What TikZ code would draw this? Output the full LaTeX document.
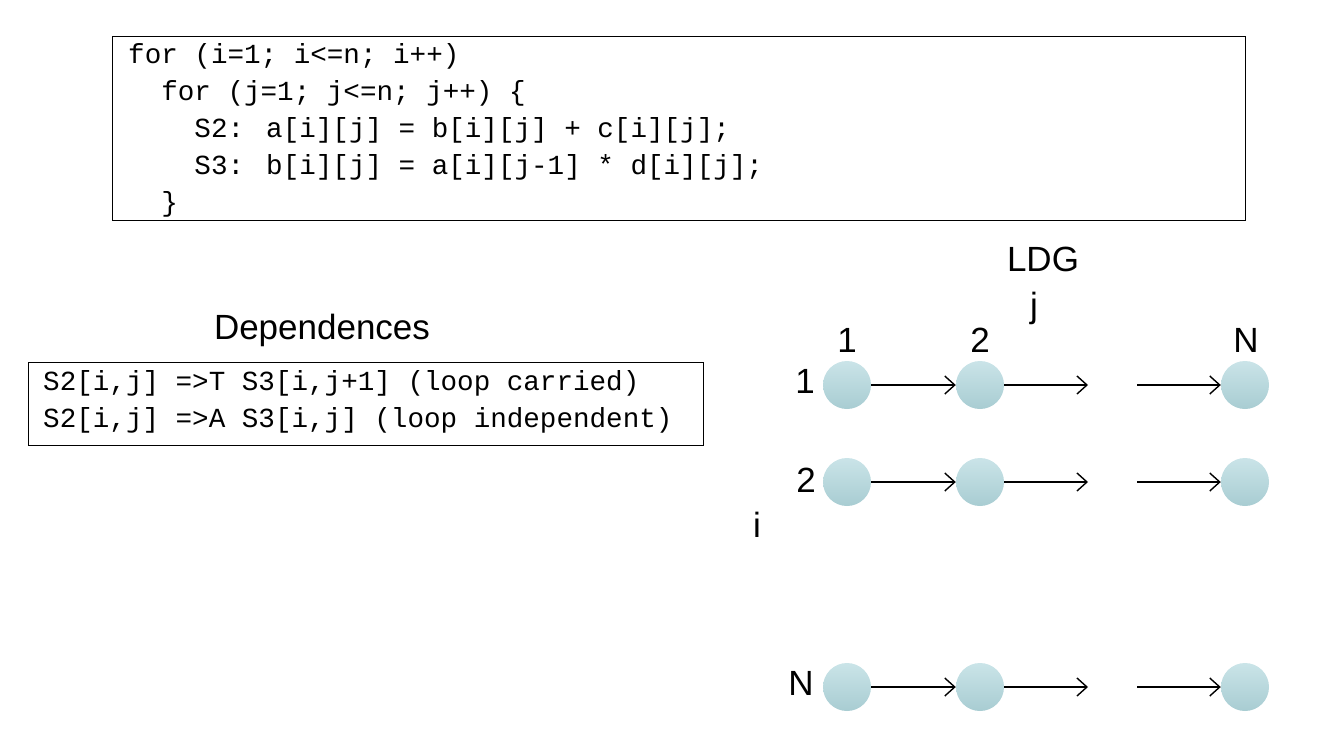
\documentclass[tikz,border=0pt]{standalone}
\usepackage{fontspec}
\setmainfont{Liberation Sans}
\newfontfamily\codefont{Liberation Mono}
\usetikzlibrary{arrows.meta}
\definecolor{ctop}{RGB}{202,228,232}
\definecolor{cbot}{RGB}{168,204,210}
\begin{document}
\begin{tikzpicture}[x=1pt,y=-1pt,
  lbl/.style={font=\fontsize{35}{36}\selectfont, inner sep=0},
  code/.style={font=\codefont\fontsize{27.6}{37}\selectfont, align=left, inner sep=0, anchor=north west},
  pt/.style={circle, minimum size=48, inner sep=0, draw=none, top color=ctop, bottom color=cbot},
  arr/.style={-{Straight Barb[length=10pt,width=18pt,line width=1.4pt]}, line width=1.4pt}]
\useasboundingbox (0,0) rectangle (1318,742);
\node[draw, line width=0.8pt, minimum width=1133, minimum height=184, anchor=north west] (codebox) at (112,36) {};
\node[code] (codetext) at (128,43) {for (i=1; i<=n; i++)\\
\ \ for (j=1; j<=n; j++) \{\\
\ \ \ \ S2: a[i][j] = b[i][j] + c[i][j];\\
\ \ \ \ S3: b[i][j] = a[i][j-1] * d[i][j];\\
\ \ \}};
\node[lbl] (deph) at (322,330) {Dependences};
\node[draw, line width=0.8pt, minimum width=675, minimum height=83, anchor=north west] (depbox) at (28,362) {};
\node[code] (dep) at (43,370) {S2[i,j] =>T S3[i,j+1] (loop carried)\\S2[i,j] =>A S3[i,j] (loop independent)};
\node[lbl] (ldg) at (1043,259) {LDG};
\node[lbl] (jl) at (1034,308) {j};
\node[lbl] (il) at (757,525) {i};
\node[lbl] (c1) at (847,340) {1};
\node[lbl] (c2) at (980,340) {2};
\node[lbl] (cN) at (1246,340) {N};
\node[lbl] (r1) at (805,381) {1};
\node[lbl] (r2) at (806,480) {2};
\node[lbl] (rN) at (801,683) {N};
\foreach \r/\y in {1/385,2/482,N/687}{
  \node[pt] (a\r) at (847,\y) {};
  \node[pt] (b\r) at (980,\y) {};
  \node[pt] (d\r) at (1245,\y) {};
  \coordinate (e\r) at (1088,\y);
  \coordinate (f\r) at (1137,\y);
  \draw[arr] (a\r) -- (b\r);
  \draw[arr] (b\r) -- (e\r);
  \draw[arr] (f\r) -- (d\r);
}
\end{tikzpicture}
\end{document}
